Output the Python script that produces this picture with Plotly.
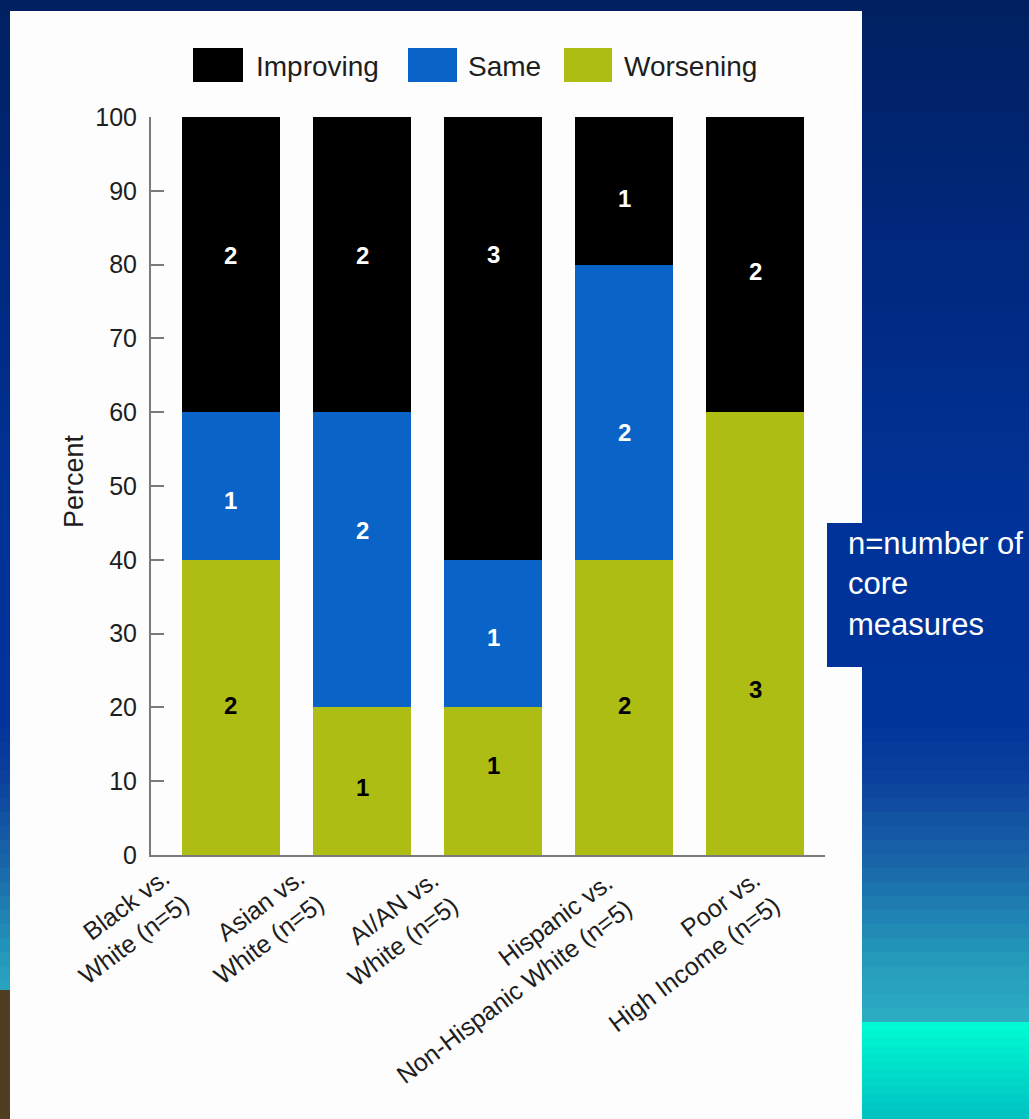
import plotly.graph_objects as go

# ---------------- data ----------------
categories = ["Black vs.<br>White (n=5)", "Asian vs.<br>White (n=5)", "AI/AN vs.<br>White (n=5)",
              "Hispanic vs.<br>Non-Hispanic White (n=5)", "Poor vs.<br>High Income (n=5)"]
improving_pct = [40, 40, 60, 20, 40]
same_pct = [20, 40, 20, 40, 0]
worsening_pct = [40, 20, 20, 40, 60]
improving_n = [2, 2, 3, 1, 2]
same_n = [1, 2, 1, 2, 0]
worsening_n = [2, 1, 1, 2, 3]
y_ticks = [0, 10, 20, 30, 40, 50, 60, 70, 80, 90, 100]

# ---------------- style ----------------
W, H = 1029, 1119
FONT = "Liberation Sans, Arial, Helvetica, sans-serif"
C_IMP, C_SAME, C_WORSE = "#000000", "#0A64C8", "#AEBD14"
AXIS_C = "#7A7A7A"
TXT = "#1E1E1E"

def fx(px):  # figure pixel -> paper fraction (margins are zero)
    return px / W

def fy(py):
    return 1 - py / H

xs = list(range(len(categories)))

fig = go.Figure()
for vals, col in [(worsening_pct, C_WORSE), (same_pct, C_SAME), (improving_pct, C_IMP)]:
    fig.add_trace(go.Bar(x=xs, y=vals, width=0.748, marker=dict(color=col, line=dict(width=0)),
                         showlegend=False, hoverinfo="skip"))

shapes = []
# background gradient bands
stops = [(0, (0, 32, 96)), (250, (0, 40, 125)), (500, (0, 50, 150)), (720, (0, 52, 155)),
         (770, (10, 62, 155)), (860, (25, 100, 168)), (950, (35, 150, 185)), (1025, (45, 175, 195)),
         (1119, (45, 175, 195))]

def col_at(y):
    for (y0, c0), (y1, c1) in zip(stops[:-1], stops[1:]):
        if y0 <= y <= y1:
            t = (y - y0) / (y1 - y0) if y1 > y0 else 0
            return "rgb(%d,%d,%d)" % tuple(round(a + (b - a) * t) for a, b in zip(c0, c1))
    return "rgb(45,175,195)"

step = 14
for y in range(0, H, step):
    shapes.append(dict(type="rect", xref="paper", yref="paper", x0=0, x1=1, y0=fy(y + step + 1), y1=fy(y),
                       fillcolor=col_at(y + step / 2), line=dict(width=0), layer="below"))
# cyan block bottom-right
cy_top, cy_bot = (0, 250, 210), (0, 190, 192)
for y in range(1022, H, 8):
    t = (y - 1022) / 97
    c = tuple(round(a + (b - a) * t) for a, b in zip(cy_top, cy_bot))
    shapes.append(dict(type="rect", xref="paper", yref="paper", x0=fx(862), x1=1, y0=fy(y + 9), y1=fy(y),
                       fillcolor="rgb(%d,%d,%d)" % c, line=dict(width=0), layer="below"))
# brownish bit bottom-left
shapes.append(dict(type="rect", xref="paper", yref="paper", x0=0, x1=fx(10), y0=0, y1=fy(990),
                   fillcolor="rgb(80,62,35)", line=dict(width=0), layer="below"))
# white panel
shapes.append(dict(type="rect", xref="paper", yref="paper", x0=fx(10), x1=fx(862), y0=0, y1=fy(11),
                   fillcolor="#FDFDFD", line=dict(width=0), layer="below"))
# blue note box
shapes.append(dict(type="rect", xref="paper", yref="paper", x0=fx(827), x1=1, y0=fy(667), y1=fy(523),
                   fillcolor="#003399", line=dict(width=0), layer="below"))

# legend (drawn manually)
legend_items = [("Improving", C_IMP, 193, 243, 254), ("Same", C_SAME, 408, 457, 466),
                ("Worsening", C_WORSE, 564, 612, 622)]
annotations = []
for name, col, x0, x1, tx in legend_items:
    shapes.append(dict(type="rect", xref="paper", yref="paper", x0=fx(x0), x1=fx(x1), y0=fy(82), y1=fy(48),
                       fillcolor=col, line=dict(width=0), layer="above"))
    annotations.append(dict(xref="paper", yref="paper", x=fx(tx), y=fy(66), text=name, showarrow=False,
                            xanchor="left", yanchor="middle", font=dict(family=FONT, size=28, color=TXT)))

# value labels inside bars
imp_y = [81.3, 81.2, 81.4, 89, 79]
same_y = [48.1, 44, 29.5, 57.3, None]
worse_y = [20.3, 9.2, 12.1, 20.3, 22.4]
for i in xs:
    for n, yy, c in [(improving_n[i], imp_y[i], "white"), (same_n[i], same_y[i], "white"),
                     (worsening_n[i], worse_y[i], "black")]:
        if n and yy is not None:
            annotations.append(dict(xref="x", yref="y", x=i, y=yy, text="<b>%d</b>" % n, showarrow=False,
                                    font=dict(family=FONT, size=24, color=c)))

# category labels (rotated); anchored by top-right of their rotated box
lab_pos = [(197, 860), (332, 860), (466, 862), (640, 865), (787, 862)]
for i, (cat, (px, py)) in enumerate(zip(categories, lab_pos)):
    annotations.append(dict(xref="paper", yref="paper", x=fx(px), y=fy(py), text=cat, showarrow=False,
                            textangle=-37, xanchor="right", yanchor="top", align="right",
                            font=dict(family=FONT, size=25, color=TXT)))

# y-axis title
annotations.append(dict(xref="paper", yref="paper", x=fx(57), y=fy(481), text="Percent", showarrow=False,
                        textangle=-90, font=dict(family=FONT, size=27, color=TXT)))

# note box text
annotations.append(dict(xref="paper", yref="paper", x=fx(846), y=fy(584), text="n=number of<br>core<br>measures",
                        showarrow=False, xanchor="left", yanchor="middle", align="left",
                        font=dict(family=FONT, size=31, color="white")))

fig.update_layout(
    width=W, height=H, margin=dict(l=0, r=0, t=0, b=0, pad=0, autoexpand=False),
    paper_bgcolor="rgb(0,32,96)", plot_bgcolor="rgba(0,0,0,0)",
    barmode="stack", bargap=0, showlegend=False,
    shapes=shapes, annotations=annotations,
    xaxis=dict(domain=[fx(151), fx(825)], range=[-0.610, 4.531], showticklabels=False, ticks="",
               showgrid=False, zeroline=False, showline=True, linecolor=AXIS_C, linewidth=2,
               fixedrange=True, automargin=False),
    yaxis=dict(domain=[fy(855), fy(117)], range=[0, 100], tickvals=y_ticks, ticks="inside", ticklen=13,
               tickwidth=2, tickcolor=AXIS_C, showgrid=False, zeroline=False, showline=True, linecolor=AXIS_C,
               linewidth=2, ticklabelstandoff=7, automargin=False,
               tickfont=dict(family=FONT, size=25, color=TXT), fixedrange=True),
)

fig.write_html("out.html")
